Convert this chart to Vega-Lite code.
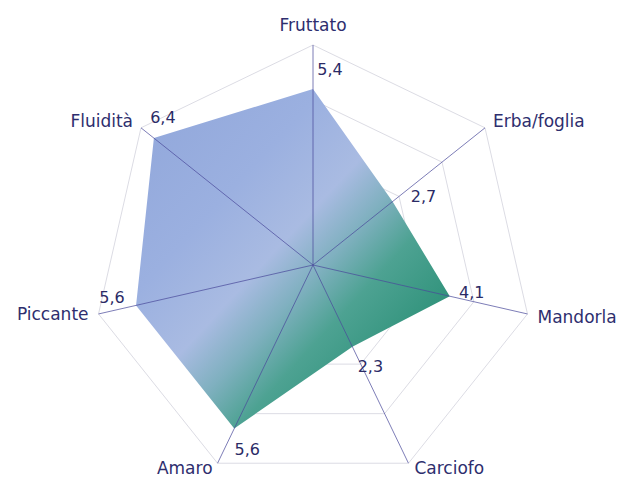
{
  "$schema": "https://vega.github.io/schema/vega-lite/v6.json",
  "width": 624,
  "height": 478,
  "autosize": "none",
  "padding": 0,
  "background": "white",
  "config": {
    "view": {"stroke": null},
    "locale": {"number": {"decimal": ",", "thousands": ".", "grouping": [3], "currency": ["", " €"]}}
  },
  "data": {
    "values": [
      {"attribute": "Fruttato", "value": 5.4, "order": 0},
      {"attribute": "Erba/foglia", "value": 2.7, "order": 1},
      {"attribute": "Mandorla", "value": 4.1, "order": 2},
      {"attribute": "Carciofo", "value": 2.3, "order": 3},
      {"attribute": "Amaro", "value": 5.6, "order": 4},
      {"attribute": "Piccante", "value": 5.6, "order": 5},
      {"attribute": "Fluidità", "value": 6.4, "order": 6}
    ]
  },
  "transform": [
    {"calculate": "datum.order*2*PI/7", "as": "ang"},
    {"calculate": "(datum.value+1)*sin(datum.ang)", "as": "px"},
    {"calculate": "(datum.value+1)*cos(datum.ang)", "as": "py"},
    {"calculate": "8*sin(datum.ang)", "as": "ox"},
    {"calculate": "8*cos(datum.ang)", "as": "oy"},
    {"calculate": "2*sin(datum.ang)", "as": "g2x"},
    {"calculate": "2*cos(datum.ang)", "as": "g2y"},
    {"calculate": "4*sin(datum.ang)", "as": "g4x"},
    {"calculate": "4*cos(datum.ang)", "as": "g4y"},
    {"calculate": "6*sin(datum.ang)", "as": "g6x"},
    {"calculate": "6*cos(datum.ang)", "as": "g6y"},
    {"calculate": "0", "as": "cx"},
    {"calculate": "format(datum.value, '.1f')", "as": "lbl"}
  ],
  "layer": [
    {
      "mark": {"type": "line", "interpolate": "linear-closed", "stroke": "#dcdce4", "strokeWidth": 1},
      "encoding": {
        "x": {"field": "g2x", "type": "quantitative", "scale": {"domain": [-11.382, 11.309], "nice": false, "zero": false}, "axis": null},
        "y": {"field": "g2y", "type": "quantitative", "scale": {"domain": [-7.745, 9.636], "nice": false, "zero": false}, "axis": null},
        "order": {"field": "order"}
      }
    },
    {
      "mark": {"type": "line", "interpolate": "linear-closed", "stroke": "#dcdce4", "strokeWidth": 1},
      "encoding": {
        "x": {"field": "g4x", "type": "quantitative", "scale": {"domain": [-11.382, 11.309], "nice": false, "zero": false}, "axis": null},
        "y": {"field": "g4y", "type": "quantitative", "scale": {"domain": [-7.745, 9.636], "nice": false, "zero": false}, "axis": null},
        "order": {"field": "order"}
      }
    },
    {
      "mark": {"type": "line", "interpolate": "linear-closed", "stroke": "#dcdce4", "strokeWidth": 1},
      "encoding": {
        "x": {"field": "g6x", "type": "quantitative", "scale": {"domain": [-11.382, 11.309], "nice": false, "zero": false}, "axis": null},
        "y": {"field": "g6y", "type": "quantitative", "scale": {"domain": [-7.745, 9.636], "nice": false, "zero": false}, "axis": null},
        "order": {"field": "order"}
      }
    },
    {
      "mark": {"type": "line", "interpolate": "linear-closed", "stroke": "#dcdce4", "strokeWidth": 1},
      "encoding": {
        "x": {"field": "ox", "type": "quantitative", "scale": {"domain": [-11.382, 11.309], "nice": false, "zero": false}, "axis": null},
        "y": {"field": "oy", "type": "quantitative", "scale": {"domain": [-7.745, 9.636], "nice": false, "zero": false}, "axis": null},
        "order": {"field": "order"}
      }
    },
    {
      "mark": {
        "type": "line",
        "interpolate": "linear-closed",
        "filled": true,
        "strokeWidth": 0,
        "fill": {
          "gradient": "linear",
          "x1": 0, "y1": 0, "x2": 1, "y2": 1,
          "stops": [
            {"offset": 0, "color": "#90a6da"},
            {"offset": 0.3, "color": "#9bb0e0"},
            {"offset": 0.46, "color": "#a9bbe2"},
            {"offset": 0.56, "color": "#7fb0bf"},
            {"offset": 0.66, "color": "#4da292"},
            {"offset": 0.8, "color": "#33947d"},
            {"offset": 1, "color": "#2a8a72"}
          ]
        }
      },
      "encoding": {
        "x": {"field": "px", "type": "quantitative", "scale": {"domain": [-11.382, 11.309], "nice": false, "zero": false}, "axis": null},
        "y": {"field": "py", "type": "quantitative", "scale": {"domain": [-7.745, 9.636], "nice": false, "zero": false}, "axis": null},
        "order": {"field": "order"}
      }
    },
    {
      "mark": {"type": "rule", "color": "#4a4a9a", "strokeWidth": 0.9, "opacity": 0.8},
      "encoding": {
        "x": {"field": "cx", "type": "quantitative", "scale": {"domain": [-11.382, 11.309], "nice": false, "zero": false}, "axis": null},
        "y": {"field": "cx", "type": "quantitative", "scale": {"domain": [-7.745, 9.636], "nice": false, "zero": false}, "axis": null},
        "x2": {"field": "ox"},
        "y2": {"field": "oy"}
      }
    },
    {
      "transform": [{"filter": "datum.attribute == 'Fruttato'"}],
      "mark": {"type": "text", "font": "DejaVu Sans", "fontSize": 17, "color": "#2e2e6e", "align": "center", "baseline": "alphabetic", "dy": -14},
      "encoding": {"x": {"field": "ox", "type": "quantitative"}, "y": {"field": "oy", "type": "quantitative"}, "text": {"field": "attribute"}}
    },
    {
      "transform": [{"filter": "datum.attribute == 'Erba/foglia'"}],
      "mark": {"type": "text", "font": "DejaVu Sans", "fontSize": 17, "color": "#2e2e6e", "align": "left", "baseline": "alphabetic", "dx": 8, "dy": -1},
      "encoding": {"x": {"field": "ox", "type": "quantitative"}, "y": {"field": "oy", "type": "quantitative"}, "text": {"field": "attribute"}}
    },
    {
      "transform": [{"filter": "datum.attribute == 'Mandorla'"}],
      "mark": {"type": "text", "font": "DejaVu Sans", "fontSize": 17, "color": "#2e2e6e", "align": "left", "baseline": "alphabetic", "dx": 10, "dy": 9},
      "encoding": {"x": {"field": "ox", "type": "quantitative"}, "y": {"field": "oy", "type": "quantitative"}, "text": {"field": "attribute"}}
    },
    {
      "transform": [{"filter": "datum.attribute == 'Carciofo'"}],
      "mark": {"type": "text", "font": "DejaVu Sans", "fontSize": 17, "color": "#2e2e6e", "align": "left", "baseline": "alphabetic", "dx": 6, "dy": 11},
      "encoding": {"x": {"field": "ox", "type": "quantitative"}, "y": {"field": "oy", "type": "quantitative"}, "text": {"field": "attribute"}}
    },
    {
      "transform": [{"filter": "datum.attribute == 'Amaro'"}],
      "mark": {"type": "text", "font": "DejaVu Sans", "fontSize": 17, "color": "#2e2e6e", "align": "right", "baseline": "alphabetic", "dx": -5, "dy": 11},
      "encoding": {"x": {"field": "ox", "type": "quantitative"}, "y": {"field": "oy", "type": "quantitative"}, "text": {"field": "attribute"}}
    },
    {
      "transform": [{"filter": "datum.attribute == 'Piccante'"}],
      "mark": {"type": "text", "font": "DejaVu Sans", "fontSize": 17, "color": "#2e2e6e", "align": "right", "baseline": "alphabetic", "dx": -10, "dy": 6},
      "encoding": {"x": {"field": "ox", "type": "quantitative"}, "y": {"field": "oy", "type": "quantitative"}, "text": {"field": "attribute"}}
    },
    {
      "transform": [{"filter": "datum.attribute == 'Fluidità'"}],
      "mark": {"type": "text", "font": "DejaVu Sans", "fontSize": 17, "color": "#2e2e6e", "align": "right", "baseline": "alphabetic", "dx": -8, "dy": -1},
      "encoding": {"x": {"field": "ox", "type": "quantitative"}, "y": {"field": "oy", "type": "quantitative"}, "text": {"field": "attribute"}}
    },
    {
      "transform": [{"filter": "datum.attribute == 'Fruttato'"}],
      "mark": {"type": "text", "font": "DejaVu Sans", "fontSize": 16, "color": "#2b2b66", "align": "center", "baseline": "middle", "dx": 17, "dy": -19},
      "encoding": {"x": {"field": "px", "type": "quantitative"}, "y": {"field": "py", "type": "quantitative"}, "text": {"field": "lbl"}}
    },
    {
      "transform": [{"filter": "datum.attribute == 'Erba/foglia'"}],
      "mark": {"type": "text", "font": "DejaVu Sans", "fontSize": 16, "color": "#2b2b66", "align": "center", "baseline": "middle", "dx": 31, "dy": -5},
      "encoding": {"x": {"field": "px", "type": "quantitative"}, "y": {"field": "py", "type": "quantitative"}, "text": {"field": "lbl"}}
    },
    {
      "transform": [{"filter": "datum.attribute == 'Mandorla'"}],
      "mark": {"type": "text", "font": "DejaVu Sans", "fontSize": 16, "color": "#2b2b66", "align": "center", "baseline": "middle", "dx": 22, "dy": -3},
      "encoding": {"x": {"field": "px", "type": "quantitative"}, "y": {"field": "py", "type": "quantitative"}, "text": {"field": "lbl"}}
    },
    {
      "transform": [{"filter": "datum.attribute == 'Carciofo'"}],
      "mark": {"type": "text", "font": "DejaVu Sans", "fontSize": 16, "color": "#2b2b66", "align": "center", "baseline": "middle", "dx": 18, "dy": 20},
      "encoding": {"x": {"field": "px", "type": "quantitative"}, "y": {"field": "py", "type": "quantitative"}, "text": {"field": "lbl"}}
    },
    {
      "transform": [{"filter": "datum.attribute == 'Amaro'"}],
      "mark": {"type": "text", "font": "DejaVu Sans", "fontSize": 16, "color": "#2b2b66", "align": "center", "baseline": "middle", "dx": 13, "dy": 21},
      "encoding": {"x": {"field": "px", "type": "quantitative"}, "y": {"field": "py", "type": "quantitative"}, "text": {"field": "lbl"}}
    },
    {
      "transform": [{"filter": "datum.attribute == 'Piccante'"}],
      "mark": {"type": "text", "font": "DejaVu Sans", "fontSize": 16, "color": "#2b2b66", "align": "center", "baseline": "middle", "dx": -24, "dy": -7},
      "encoding": {"x": {"field": "px", "type": "quantitative"}, "y": {"field": "py", "type": "quantitative"}, "text": {"field": "lbl"}}
    },
    {
      "transform": [{"filter": "datum.attribute == 'Fluidità'"}],
      "mark": {"type": "text", "font": "DejaVu Sans", "fontSize": 16, "color": "#2b2b66", "align": "center", "baseline": "middle", "dx": 9, "dy": -20},
      "encoding": {"x": {"field": "px", "type": "quantitative"}, "y": {"field": "py", "type": "quantitative"}, "text": {"field": "lbl"}}
    }
  ]
}
